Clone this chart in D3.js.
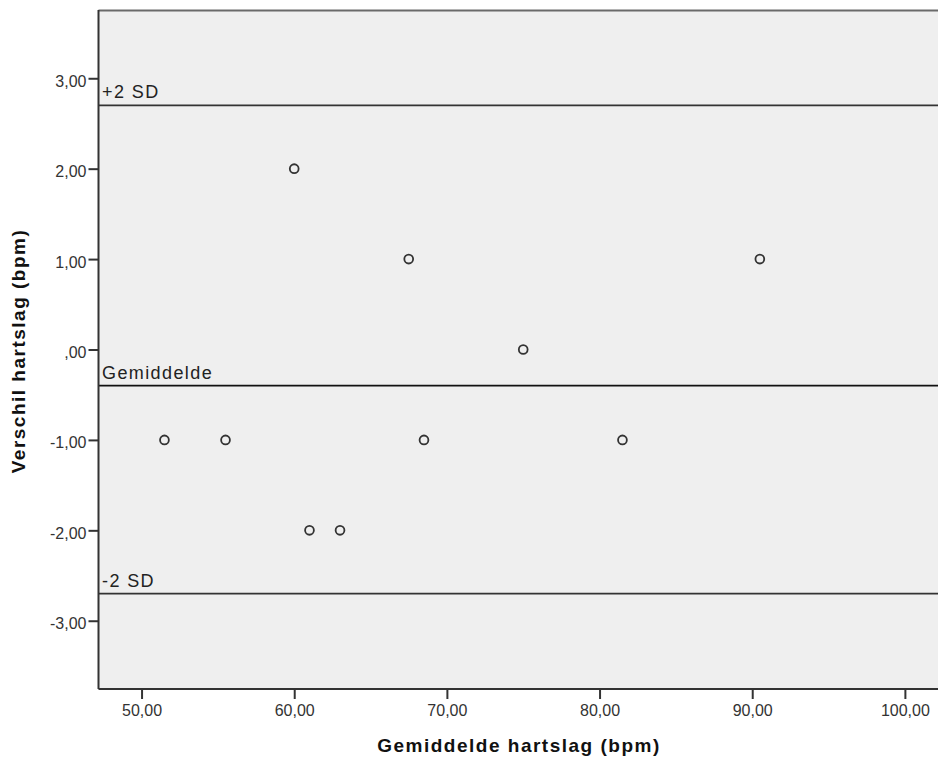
<!DOCTYPE html>
<html>
<head>
<meta charset="utf-8">
<script src="https://cdn.jsdelivr.net/npm/d3@7/dist/d3.min.js"></script>
<style>
  html, body { margin: 0; padding: 0; background: #fff; }
  svg { display: block; font-family: "Liberation Sans", Arial, sans-serif; }
</style>
</head>
<body>
<div id="chart"></div>
<script>
// gemiddelde hartslag (x) en verschil (y)
var meanHR = [60, 67.5, 90.5, 75, 51.5, 55.5, 68.5, 81.5, 61, 63];
var diffHR = [2, 1, 1, 0, -1, -1, -1, -1, -2, -2];
// referentielijnen
var refLabels = ["+2 SD", "Gemiddelde", "-2 SD"];
var refValues = [2.70, -0.40, -2.70];
var xTicks = [50, 60, 70, 80, 90, 100];
var yTicks = [3, 2, 1, 0, -1, -2, -3];

var width = 938, height = 758,
  plot = { left: 98.5, right: 940, top: 10, bottom: 689 };

var svg = d3.select("#chart").append("svg")
  .attr("width", width).attr("height", height);

var x = d3.scaleLinear().domain([47.18, 102.3]).range([plot.left, plot.right]);
var y = d3.scaleLinear().domain([-3.755, 3.755]).range([plot.bottom, plot.top]);

// komma als decimaalteken, gewoon minteken
var fmt = function(d) {
  var s = d3.format(".2f")(d).replace("\u2212", "-").replace(".", ",");
  return s.replace(/^0,/, ",").replace(/^-0,/, "-,");
};

//achtergrond
svg.append("rect")
  .attr("x", plot.left).attr("y", plot.top)
  .attr("width", plot.right - plot.left).attr("height", plot.bottom - plot.top)
  .attr("fill", "#efefef");

//referentielijnen
svg.selectAll(".ref")
  .data(refValues)
  .enter()
  .append("line")
  .attr("class", "ref")
  .attr("x1", plot.left).attr("x2", plot.right)
  .attr("y1", function(d) { return y(d); })
  .attr("y2", function(d) { return y(d); })
  .attr("stroke", function(d, i) { return i == 1 ? "#111" : "#333"; })
  .attr("stroke-width", 1.7);

svg.selectAll(".refLabel")
  .data(refValues)
  .enter()
  .append("text")
  .attr("class", "refLabel")
  .attr("x", plot.left + 3.5)
  .attr("y", function(d) { return y(d) - 7; })
  .attr("font-size", 18)
  .attr("letter-spacing", 1.4)
  .attr("fill", "#222")
  .text(function(d, i) { return refLabels[i]; });

//kader boven
svg.append("line")
  .attr("x1", plot.left).attr("x2", plot.right)
  .attr("y1", plot.top + 0.5).attr("y2", plot.top + 0.5)
  .attr("stroke", "#6a6a6a").attr("stroke-width", 2);

//assen
var yAxis = d3.axisLeft(y).tickValues(yTicks).tickFormat(fmt).tickSize(10).tickPadding(2);
var xAxis = d3.axisBottom(x).tickValues(xTicks).tickFormat(fmt).tickSize(10).tickPadding(6);

var gy = svg.append("g")
  .attr("transform", "translate(" + plot.left + ",0)")
  .call(yAxis);
var gx = svg.append("g")
  .attr("transform", "translate(0," + plot.bottom + ")")
  .call(xAxis);

[gx, gy].forEach(function(g) {
  g.select(".domain").attr("stroke", "#333").attr("stroke-width", 2);
  g.selectAll(".tick line").attr("stroke", "#333").attr("stroke-width", 2);
  g.selectAll(".tick text")
    .attr("font-family", "'Liberation Sans', Arial, sans-serif")
    .attr("font-size", 16).attr("fill", "#333");
});
gy.selectAll(".tick text").attr("dy", "0.5em");
gy.select(".domain").attr("d", "M0," + plot.top + "V" + plot.bottom);
gx.select(".domain").attr("d", "M" + plot.left + ",0H" + plot.right);

//punten
svg.selectAll(".pt")
  .data(meanHR)
  .enter()
  .append("circle")
  .attr("class", "pt")
  .attr("cx", function(d) { return x(d); })
  .attr("cy", function(d, i) { return y(diffHR[i]); })
  .attr("r", 4.4)
  .attr("fill", "none")
  .attr("stroke", "#333")
  .attr("stroke-width", 1.8);

//astitels
svg.append("text")
  .attr("x", 519).attr("y", 752)
  .attr("text-anchor", "middle")
  .attr("font-size", 19).attr("font-weight", "bold").attr("letter-spacing", 1.5)
  .attr("fill", "#111")
  .text("Gemiddelde hartslag (bpm)");

svg.append("text")
  .attr("transform", "translate(25," + 351 + ") rotate(-90)")
  .attr("text-anchor", "middle")
  .attr("font-size", 19).attr("font-weight", "bold").attr("letter-spacing", 1.5)
  .attr("fill", "#111")
  .text("Verschil hartslag (bpm)");
</script>
</body>
</html>
